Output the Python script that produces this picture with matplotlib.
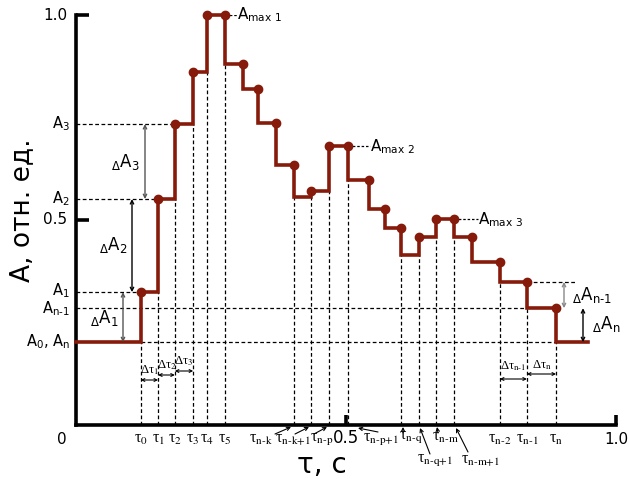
import numpy as np
import matplotlib.pyplot as plt

# moments of the steps (fraction of full time) and the level after each step
tau = [0.120, 0.152, 0.183, 0.217, 0.243, 0.276, 0.309, 0.337, 0.370, 0.404,
       0.435, 0.469, 0.504, 0.543, 0.572, 0.602, 0.635, 0.667, 0.700, 0.733,
       0.785, 0.835, 0.889]
level = [0.324, 0.551, 0.734, 0.861, 1.0, 0.880, 0.820, 0.737, 0.634, 0.556,
         0.571, 0.680, 0.598, 0.527, 0.480, 0.415, 0.459, 0.502, 0.459, 0.398,
         0.349, 0.285, 0.202]
a0 = 0.202
t_end = 0.948

# steps that get a dashed guide and a tau label
guide_idx = [0, 1, 2, 3, 4, 5, 9, 10, 11, 12, 15, 16, 17, 18, 20, 21, 22]
guide_names = ['0', '1', '2', '3', '4', '5', 'n-k', 'n-k+1', 'n-p', 'n-p+1',
               'n-q', 'n-q+1', 'n-m', 'n-m+1', 'n-2', 'n-1', 'n']

RED = '#861a0b'
W, H = 629, 479

fig = plt.figure(figsize=(W / 100, H / 100), dpi=100)
ax = fig.add_axes([76 / W, (H - 425) / H, 540 / W, 410 / H])
ax.set_xlim(0, 1)
ax.set_ylim(0, 1)


def P(xp, yp):
    # pixel position -> data position (for annotations only)
    return (xp - 76) / 540, (425 - yp) / 410


def sub(s):
    # subscript with plain hyphens
    return r'$_{\text{%s}}$' % s


for s in ['top', 'right']:
    ax.spines[s].set_visible(False)
for s in ['left', 'bottom']:
    ax.spines[s].set_linewidth(2.6)
ax.set_xticks([0.5, 1.0])
ax.set_yticks([0.5, 1.0])
ax.tick_params(axis='y', direction='in', length=9, width=2.6,
               labelleft=False)
ax.tick_params(axis='x', direction='in', length=7, width=2.6,
               labelbottom=False)

prev = [a0] + level[:-1]
dash = dict(color='k', lw=0.9, ls=(0, (3, 2)), zorder=1)

# vertical guides
for i in guide_idx:
    ax.plot([tau[i], tau[i]], [0, min(prev[i], level[i])], **dash)

# horizontal guides
ax.plot([0, tau[2]], [level[2]] * 2, **dash)
ax.plot([0, tau[1]], [level[1]] * 2, **dash)
ax.plot([0, tau[0]], [level[0]] * 2, **dash)
ax.plot([0, tau[21]], [level[21]] * 2, **dash)
ax.plot([tau[0], tau[22]], [a0, a0], **dash)
ax.plot([tau[21], P(575, 0)[0]], [level[20]] * 2, **dash)

# step curve
xs = [0] + tau + [t_end]
ys = [a0] + level + [level[-1]]
ax.step(xs, ys, where='post', color=RED, lw=2.6, zorder=3, clip_on=False,
        solid_joinstyle='miter')
ax.plot(tau, [max(p, l) for p, l in zip(prev, level)], 'o', color=RED,
        ms=6, zorder=4, clip_on=False)

# y labels
ax.text(*P(67, 15), '1.0', ha='right', va='center', fontsize=11)
ax.text(*P(67, 220), '0.5', ha='right', va='center', fontsize=11)
ax.text(*P(70, 124), 'A' + sub('3'), ha='right', va='center', fontsize=10.5)
ax.text(*P(70, 199), 'A' + sub('2'), ha='right', va='center', fontsize=10.5)
ax.text(*P(70, 291), 'A' + sub('1'), ha='right', va='center', fontsize=10.5)
ax.text(*P(70, 309), 'A' + sub('n-1'), ha='right', va='center', fontsize=10.5)
ax.text(*P(70, 342), 'A' + sub('0') + ', A' + sub('n'), ha='right',
        va='center', fontsize=10.5)
ax.text(*P(62, 439), '0', ha='center', va='center', fontsize=11)
ax.text(*P(346, 438), '0.5', ha='center', va='center', fontsize=12)
ax.text(*P(616, 439), '1.0', ha='center', va='center', fontsize=11)

# maxima
for (xd, yd, xt, name) in [(tau[5], 1.0, 237, 'max 1'),
                           (tau[12], level[11], 370, 'max 2'),
                           (tau[18], level[17], 478, 'max 3')]:
    ax.plot([xd, P(xt, 0)[0]], [yd, yd], color='k', lw=0.9,
            ls=(0, (2, 1.5)), zorder=1)
    ax.text(P(xt, 0)[0], yd, 'A' + sub(name), ha='left', va='center',
            fontsize=11)


# delta A arrows
def varrow(xp, y1, y2, color):
    ax.annotate('', xy=(P(xp, 0)[0], y2), xytext=(P(xp, 0)[0], y1),
                arrowprops=dict(arrowstyle='<->', color=color, lw=1,
                                shrinkA=0, shrinkB=0, mutation_scale=6))


varrow(145, level[1], level[2], '#555555')
varrow(132, level[0], level[1], 'k')
varrow(123, a0, level[0], '#555555')
varrow(564, level[20], level[21], '#888888')
varrow(583, level[21], a0, 'k')


def dlabel(xp, yp, s):
    ax.text(*P(xp, yp), r'${}_{\Delta}$A' + sub(s),
            ha='center', va='center', fontsize=12)


dlabel(125, 162, '3')
dlabel(113, 245, '2')
dlabel(104, 318, '1')
dlabel(592, 295, 'n-1')
dlabel(606, 324, 'n')

# delta tau arrows
serif = dict(family='Liberation Serif', math_fontfamily='stix')
for (a, b, yp, typ, name) in [(0, 1, 380, 370, '1'), (1, 2, 375, 365, '2'),
                              (2, 3, 371, 361, '3'), (20, 21, 379, 366, 'n-1'),
                              (21, 22, 374, 365, 'n')]:
    y = P(0, yp)[1]
    ax.annotate('', xy=(tau[b], y), xytext=(tau[a], y),
                arrowprops=dict(arrowstyle='<->', color='k', lw=0.8,
                                shrinkA=0, shrinkB=0, mutation_scale=5))
    ax.text((tau[a] + tau[b]) / 2, P(0, typ)[1], 'Δτ' + sub(name),
            ha='center', va='center', fontsize=9, **serif)

# tau labels under the axis: label centre (px) and arrow start/end (px)
lab_pos = {
    'n-k': (261, 439, (275, 434), (291, 427)),
    'n-k+1': (293, 439, (295, 434), (309, 427)),
    'n-p': (322, 439, (314, 434), (327, 427)),
    'n-p+1': (381, 439, (378, 432), (358, 428)),
    'n-q': (411, 437, (403, 433), (403, 427)),
    'n-q+1': (435, 460, (430, 454), (420, 428)),
    'n-m': (445, 437, (438, 433), (437, 427)),
    'n-m+1': (480, 460, (468, 452), (456, 428)),
}
for i, name in zip(guide_idx, guide_names):
    if name in lab_pos:
        xp, yp, a, b = lab_pos[name]
        ax.annotate('', xy=P(*b), xytext=P(*a),
                    arrowprops=dict(arrowstyle='->', color='k', lw=0.8,
                                    shrinkA=0, shrinkB=0, mutation_scale=6),
                    annotation_clip=False)
        x, y = P(xp, yp)
    else:
        x, y = tau[i], P(0, 439)[1]
    ax.text(x, y, 'τ' + sub(name), ha='center', va='center', fontsize=11.5,
            **serif)

fig.text(322 / W, 1 - 465 / H, 'τ, с', ha='center', va='center', fontsize=20)
fig.text(22 / W, 1 - 210 / H, 'А, отн. ед.', ha='center', va='center',
         fontsize=19, rotation=90)

fig.savefig('out.png', dpi=100)
